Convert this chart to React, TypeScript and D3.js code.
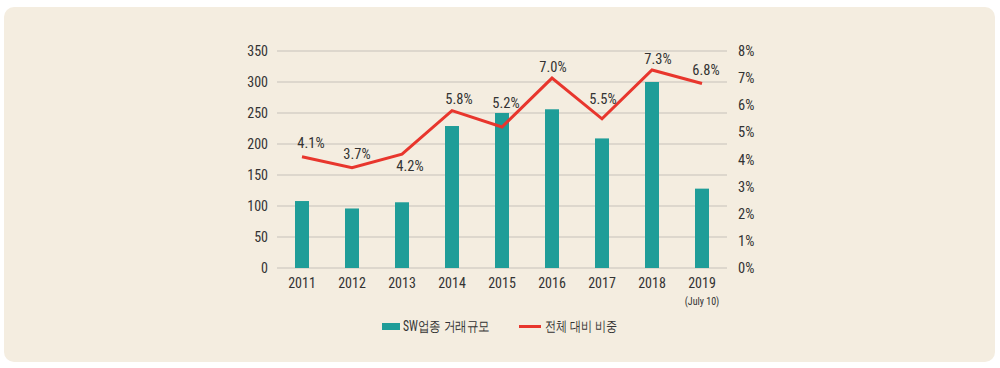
import React from 'react';
import * as d3 from 'd3';

const years = ['2011', '2012', '2013', '2014', '2015', '2016', '2017', '2018', '2019'];
const tradeSize = [108, 96, 106, 229, 250, 256, 209, 300, 128];
const sharePct = [4.1, 3.7, 4.2, 5.8, 5.2, 7.0, 5.5, 7.3, 6.8];
const leftTicks = [0, 50, 100, 150, 200, 250, 300, 350];
const rightTicks = [0, 1, 2, 3, 4, 5, 6, 7, 8];
const legendLabels = ['SW업종 거래규모', '전체 대비 비중'];

// label nudges so the % values sit clear of the line
const labelDy = [-14, -14, 12, -12, -24, -11, -20, -11, -14];
const labelDx = [9, 5, 8, 7, 4, 1, 1, 6, 4];

const W = 1000;
const H = 368;
const margin = { top: 51, right: 273, bottom: 100, left: 277 };
const FONT = '"Liberation Sans Narrow", "Roboto Condensed", Roboto, "Liberation Sans", sans-serif';
const TEXT = '#333';
const BAR = '#1f9d98';
const LINE = '#e8362d';

const App: React.FC = () => {
  const x = d3.scaleBand().domain(years).range([margin.left, W - margin.right]).paddingInner(0.72).paddingOuter(0.36);
  const yL = d3.scaleLinear().domain([0, 350]).range([H - margin.bottom, margin.top]);
  const yR = d3.scaleLinear().domain([0, 8]).range([H - margin.bottom, margin.top]);
  const cx = (d: string) => (x(d) ?? 0) + x.bandwidth() / 2;

  const line = d3.line<number>()
    .x((_, i) => cx(years[i]))
    .y(d => yR(d));

  return (
    <svg width={W} height={H} style={{ display: 'block', position: 'absolute', left: 0, top: 0 }}>
      <rect x={0} y={0} width={W} height={H} fill="#fff" />
      <rect x={4} y={7} width={991} height={355} rx={10} fill="#f4ede0" />
      {leftTicks.map(t => (
        <g key={t}>
          <line x1={margin.left} x2={W - margin.right} y1={yL(t)} y2={yL(t)} stroke="#c6c2ba" strokeWidth={1.2} />
          <text x={268} y={yL(t)} dy="0.35em" textAnchor="end" fontSize={14} fontFamily={FONT} fill={TEXT}>{t}</text>
        </g>
      ))}
      {rightTicks.map(t => (
        <text key={t} x={738} y={yR(t)} dy="0.35em" fontSize={14.5} fontFamily={FONT} fill={TEXT}>{t}%</text>
      ))}
      {years.map((yr, i) => (
        <rect key={yr} x={x(yr)} y={yL(tradeSize[i])} width={x.bandwidth()} height={yL(0) - yL(tradeSize[i])} fill={BAR} />
      ))}
      <path d={line(sharePct) ?? ''} fill="none" stroke={LINE} strokeWidth={3} strokeLinejoin="miter" />
      {years.map((yr, i) => (
        <text key={yr} x={cx(yr) + labelDx[i]} y={yR(sharePct[i]) + labelDy[i]} dy="0.35em" textAnchor="middle"
          fontSize={14.5} fontFamily={FONT} fill={TEXT}>{sharePct[i].toFixed(1)}%</text>
      ))}
      {years.map(yr => (
        <text key={yr} x={cx(yr)} y={283} dy="0.35em" textAnchor="middle" fontSize={14} fontFamily={FONT} fill={TEXT}>{yr}</text>
      ))}
      <text x={cx('2019')} y={301} dy="0.35em" textAnchor="middle" fontSize={10} fontFamily={FONT} fill={TEXT}>(July 10)</text>
      <rect x={382} y={323} width={18} height={7} fill={BAR} />
      <text x={403} y={326.5} dy="0.35em" fontSize={14} fontFamily={FONT} fill={TEXT}
        textLength={87} lengthAdjust="spacingAndGlyphs">{legendLabels[0]}</text>
      <line x1={519} x2={541} y1={326.5} y2={326.5} stroke={LINE} strokeWidth={3} />
      <text x={545} y={326.5} dy="0.35em" fontSize={14} fontFamily={FONT} fill={TEXT}
        textLength={72} lengthAdjust="spacingAndGlyphs">{legendLabels[1]}</text>
    </svg>
  );
};

export default App;
